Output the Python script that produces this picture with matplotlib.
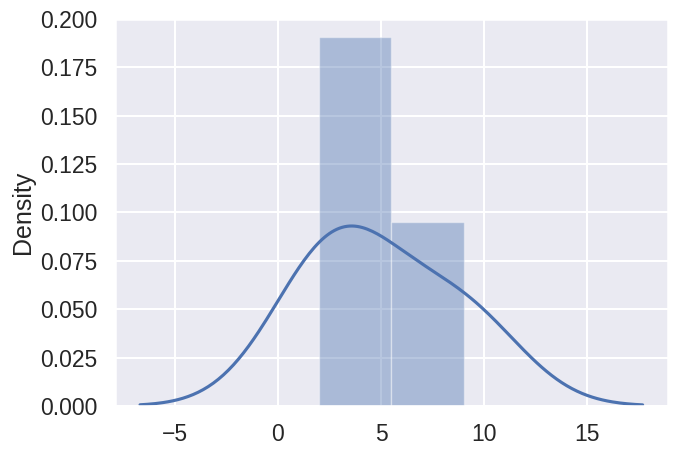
import matplotlib
matplotlib.use("Agg")
import matplotlib.pyplot as plt
import seaborn as sns
import numpy as np

values = [2, 4, 9]
n_bins = 2
y_ticks = [0.000, 0.025, 0.050, 0.075, 0.100, 0.125, 0.150, 0.175, 0.200]
x_ticks = [-5, 0, 5, 10, 15]

sns.set_theme(context="talk", style="darkgrid")
plt.rcParams['font.family'] = ['Liberation Sans', 'DejaVu Sans']

fig = plt.figure(figsize=(6.8, 4.54), dpi=100)
ax = fig.add_axes([0.169, 0.106, 0.813, 0.852])

color = sns.color_palette("deep")[0]
ax.hist(values, bins=n_bins, density=True, alpha=0.4, color=color,
        edgecolor="white", linewidth=1)
sns.kdeplot(values, ax=ax, color=color, cut=3, linewidth=2.25)

ax.set_ylim(0, 0.2)
ax.set_yticks(y_ticks)
ax.set_yticklabels([f"{t:.3f}" for t in y_ticks])
ax.set_xticks(x_ticks)
ax.set_xticklabels([f"{t}".replace("-", "\u2212") for t in x_ticks])
ax.set_ylabel("Density")
ax.set_xlabel("")

fig.savefig("out.png", dpi=100)
